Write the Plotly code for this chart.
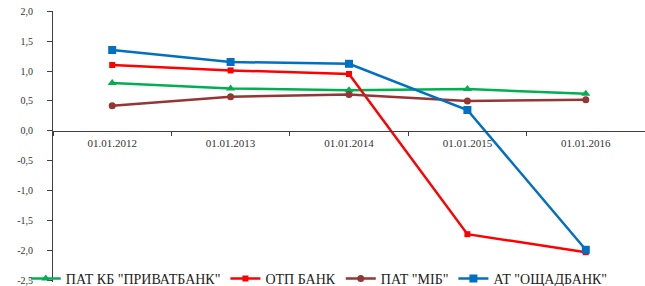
import plotly.graph_objects as go

categories = ["01.01.2012", "01.01.2013", "01.01.2014", "01.01.2015", "01.01.2016"]
privat = [0.80, 0.71, 0.68, 0.70, 0.62]
otp = [1.10, 1.01, 0.95, -1.72, -2.02]
mib = [0.42, 0.57, 0.61, 0.50, 0.52]
oschad = [1.35, 1.15, 1.12, 0.35, -1.98]

y_tickvals = [2.0, 1.5, 1.0, 0.5, 0.0, -0.5, -1.0, -1.5, -2.0, -2.5]
y_ticktext = ["2,0", "1,5", "1,0", "0,5", "0,0", "-0,5", "-1,0", "-1,5", "-2,0", "-2,5"]

FONT = "Liberation Serif, Times New Roman, serif"

fig = go.Figure()
fig.add_trace(go.Scatter(x=categories, y=privat, name='ПАТ КБ "ПРИВАТБАНК"', mode="lines+markers",
                         line=dict(color="#00B050", width=2.5),
                         marker=dict(symbol="triangle-up", size=8, color="#00B050")))
fig.add_trace(go.Scatter(x=categories, y=otp, name="ОТП БАНК", mode="lines+markers",
                         line=dict(color="#FF0000", width=2.5),
                         marker=dict(symbol="square", size=6, color="#FF0000")))
fig.add_trace(go.Scatter(x=categories, y=mib, name='ПАТ "МІБ"', mode="lines+markers",
                         line=dict(color="#943634", width=2.5),
                         marker=dict(symbol="circle", size=7, color="#943634")))
fig.add_trace(go.Scatter(x=categories, y=oschad, name='АТ "ОЩАДБАНК"', mode="lines+markers",
                         line=dict(color="#0070C0", width=2.5),
                         marker=dict(symbol="square", size=8, color="#0070C0")))

y_min, y_max = -2.517, 2.0
y0_frac = (0 - y_min) / (y_max - y_min)

fig.update_layout(
    width=645, height=286,
    margin=dict(l=53, r=0, t=11, b=4, autoexpand=False),
    paper_bgcolor="white", plot_bgcolor="white",
    font=dict(family=FONT, color="#333333"),
    showlegend=True,
    legend=dict(orientation="h", x=-0.046, xanchor="left", y=-0.048, yanchor="bottom",
                font=dict(family=FONT, size=14, color="#222222"),
                bgcolor="rgba(0,0,0,0)", tracegroupgap=0, itemwidth=30),
    xaxis=dict(type="category", range=[-0.5, 4.5], anchor="free", position=y0_frac,
               showline=True, linecolor="#404040", linewidth=1,
               ticks="outside", tickson="boundaries", ticklen=4, tickcolor="#404040",
               showgrid=False, zeroline=False, ticklabelstandoff=2,
               tickfont=dict(family=FONT, size=11, color="#333333"), fixedrange=True),
    yaxis=dict(range=[y_min, y_max], tickvals=y_tickvals, ticktext=y_ticktext,
               showline=True, linecolor="#404040", linewidth=1,
               ticks="outside", ticklen=5, tickcolor="#404040",
               showgrid=False, zeroline=False, ticklabelstandoff=12,
               ticklabeloverflow="allow",
               tickfont=dict(family=FONT, size=10, color="#333333"), fixedrange=True),
)

fig.write_html("out.html", config={"displayModeBar": False},
               post_script="document.body.style.margin='0';document.body.style.overflow='hidden';")
